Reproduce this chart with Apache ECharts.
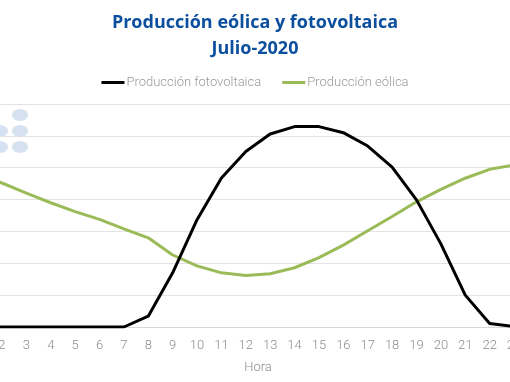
<!DOCTYPE html>
<html>
<head>
<meta charset="utf-8">
<script src="https://cdn.jsdelivr.net/npm/echarts@6/dist/echarts.min.js"></script>
<style>html,body{margin:0;padding:0;background:#fff;}#c{width:510px;height:382px;}</style>
</head>
<body>
<div id="c"></div>
<script>
var hours = ['1','2','3','4','5','6','7','8','9','10','11','12','13','14','15','16','17','18','19','20','21','22','23','24'];
var fotovoltaica = [0,0,0,0,0,0,0,0.34,1.70,3.37,4.68,5.51,6.06,6.29,6.29,6.10,5.68,5.02,3.99,2.61,1.00,0.11,0.02,0];
var eolica = [4.86,4.52,4.20,3.90,3.62,3.38,3.08,2.80,2.26,1.92,1.70,1.62,1.67,1.86,2.18,2.57,3.02,3.47,3.93,4.32,4.67,4.95,5.08,5.15];
var titleText = 'Producción eólica y fotovoltaica\nJulio-2020';
var seriesNames = ['Producción fotovoltaica','Producción eólica'];
var xName = 'Hora';

var chart = echarts.init(document.getElementById('c'), null, {renderer:'canvas'});
var dot = function(x,y){
  return {type:'circle', x:x, y:y, scaleX:1.35, scaleY:1, shape:{cx:0,cy:0,r:6}, style:{fill:'#d6e2f2'}, z:-10, silent:true};
};
chart.setOption({
  animation:false,
  title:{
    text:titleText, left:'center', top:5,
    textStyle:{color:'#0b4f9e', fontSize:18, fontWeight:'bold', fontFamily:'Open Sans', lineHeight:26}
  },
  legend:{
    top:71, left:'center', itemGap:21, itemWidth:23, itemHeight:3,
    icon:'rect',
    textStyle:{color:'#9a9a9a', fontSize:13, fontFamily:'Roboto', fontWeight:300, padding:[0,0,0,-3]},
    data:seriesNames
  },
  graphic:[dot(20,115), dot(0,131), dot(20,131), dot(0,147), dot(20,147)],
  grid:{left:-34.6, right:-40.6, top:104, bottom:55, containLabel:false, outerBoundsMode:'none'},
  xAxis:{
    type:'category', data:hours, boundaryGap:true,
    name:xName, nameLocation:'middle', nameGap:34,
    nameTextStyle:{color:'#8c8c8c', fontSize:13, fontFamily:'Roboto', fontWeight:300},
    axisTick:{show:false},
    axisLine:{lineStyle:{color:'#d9d9d9', width:1}},
    axisLabel:{interval:0, color:'#8c8c8c', fontSize:13, fontFamily:'Roboto', fontWeight:300, margin:12},
    splitLine:{show:false}
  },
  yAxis:{
    type:'value', min:0, max:7, interval:1,
    axisLabel:{show:false}, axisLine:{show:false}, axisTick:{show:false},
    splitLine:{lineStyle:{color:'#e3e3e3', width:1}}
  },
  series:[
    {name:seriesNames[0], type:'line', data:fotovoltaica, symbol:'none', smooth:false,
     lineStyle:{color:'#000000', width:3}, itemStyle:{color:'#000000'}, z:3},
    {name:seriesNames[1], type:'line', data:eolica, symbol:'none', smooth:false,
     lineStyle:{color:'#9bbb59', width:3}, itemStyle:{color:'#9bbb59'}, z:2}
  ]
});
</script>
</body>
</html>
